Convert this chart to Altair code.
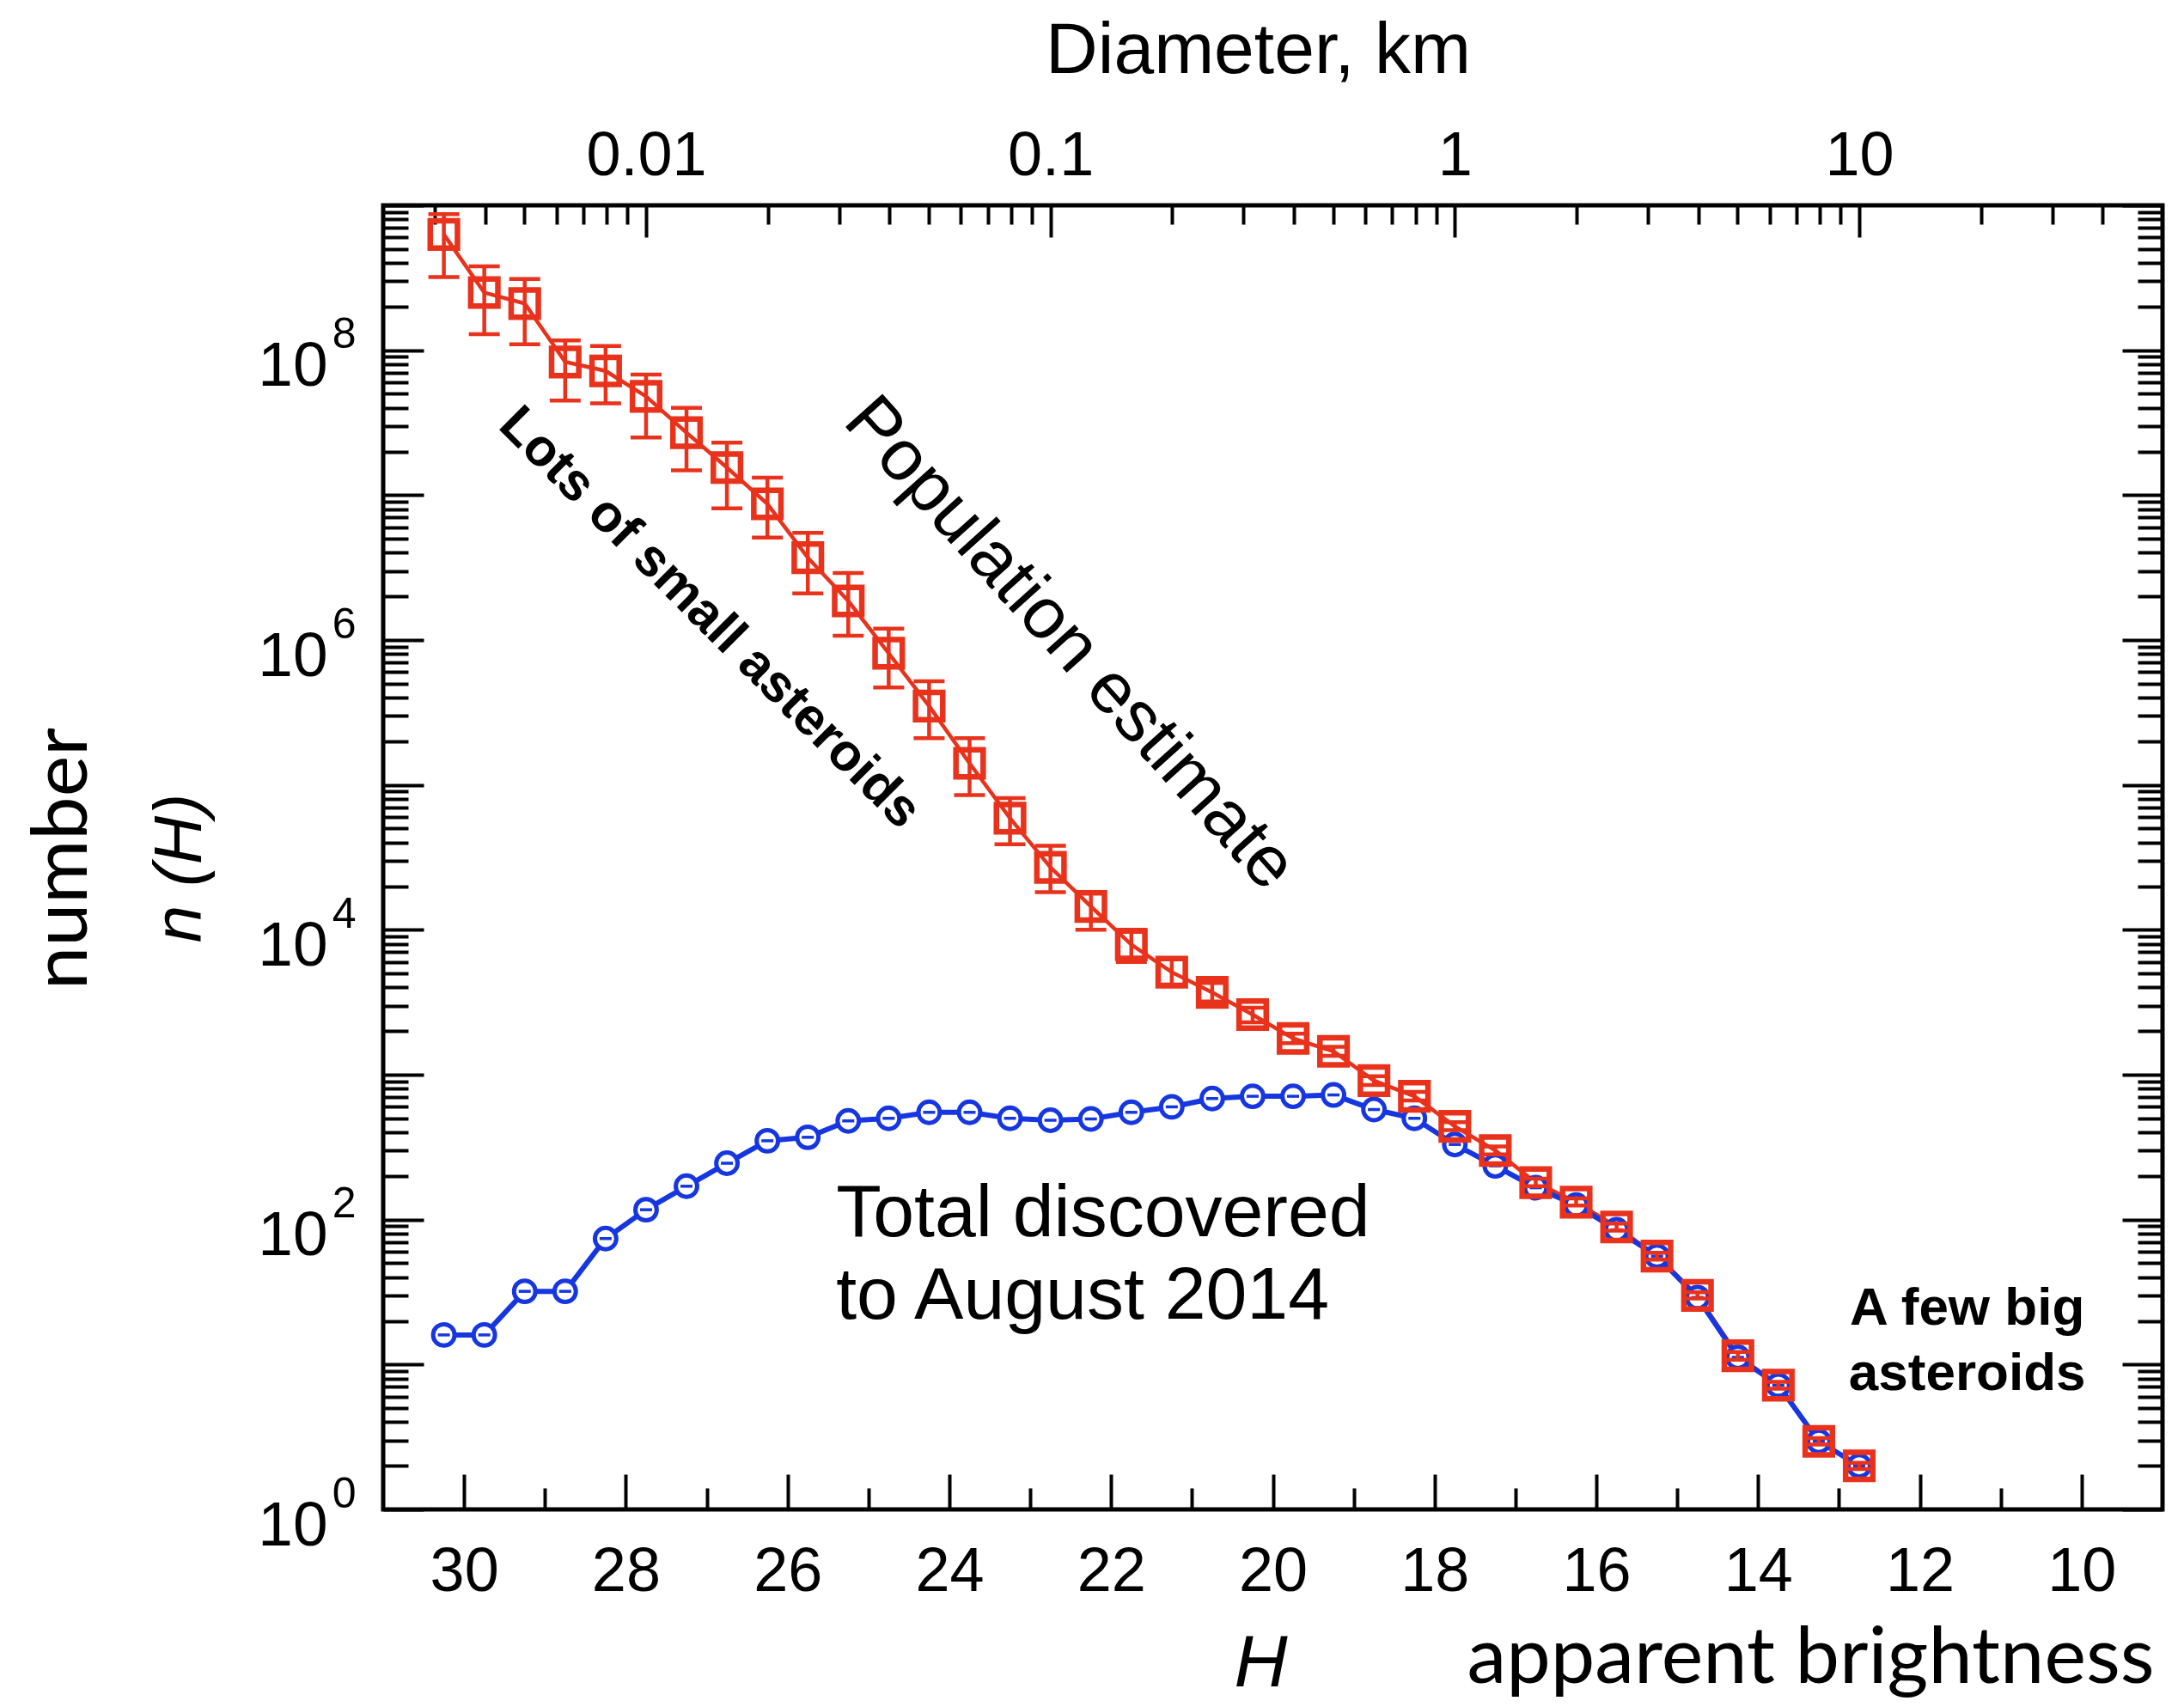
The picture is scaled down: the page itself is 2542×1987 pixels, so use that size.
import math
import altair as alt
import pandas as pd

# ---------------- data ----------------
H = [30.25, 29.75, 29.25, 28.75, 28.25, 27.75, 27.25, 26.75, 26.25, 25.75,
     25.25, 24.75, 24.25, 23.75, 23.25, 22.75, 22.25, 21.75, 21.25, 20.75,
     20.25, 19.75, 19.25, 18.75, 18.25, 17.75, 17.25, 16.75, 16.25, 15.75,
     15.25, 14.75, 14.25, 13.75, 13.25, 12.75]

POP = [6.3e8, 2.5e8, 2.1e8, 8.3e7, 7.2e7, 4.8e7, 2.7e7, 1.55e7, 8.7e6, 3.7e6,
       1.86e6, 8.1e5, 3.5e5, 1.41e5, 5.9e4, 2.7e4, 1.45e4, 7.9e3, 5.1e3, 3.7e3,
       2.6e3, 1.78e3, 1.45e3, 910, 710, 440, 300, 180, 132, 89,
       56, 30, 11.5, 7.2, 2.95, 2.0]

POP_LO = [3.2e8, 1.29e8, 1.10e8, 4.5e7, 4.3e7, 2.5e7, 1.48e7, 8.1e6, 5.1e6, 2.1e6,
          1.07e6, 4.7e5, 2.1e5, 8.5e4, 3.9e4, 1.82e4, 1.0e4, 6.0e3, 4.2e3, 3.2e3,
          2.3e3, 1.65e3, 1.35e3, 850, 665, 415, 282, 170, 125, 84,
          53, 28.5, 10.8, 6.8, 2.8, 1.9]

POP_HI = [8.7e8, 3.8e8, 3.1e8, 1.17e8, 1.07e8, 6.8e7, 4.0e7, 2.3e7, 1.32e7, 5.5e6,
          2.9e6, 1.2e6, 5.2e5, 2.1e5, 8.1e4, 3.8e4, 1.82e4, 1.0e4, 6.3e3, 4.3e3,
          2.9e3, 1.92e3, 1.56e3, 975, 760, 470, 320, 192, 140, 94,
          59, 31.5, 12.2, 7.6, 3.1, 2.1]

FOUND = [16, 16, 32, 32, 74, 117, 170, 245, 350, 370,
         480, 500, 550, 550, 500, 485, 495, 550, 600, 685,
         710, 710, 725, 575, 500, 330, 235, 166, 126, 85,
         56, 29, 11.2, 7.2, 2.95, 2.0]

BOTTOM_TICK_VALUES = list(range(10, 31))
BOTTOM_LABEL_VALUES = list(range(10, 31, 2))
Y_LABEL_VALUES = [1, 10**2, 10**4, 10**6, 10**8]
Y_TICK_VALUES = [m * 10**k for k in range(9) for m in range(1, 10)] + [10**9]
DIAM_MAJOR = [0.01, 0.1, 1, 10]
DIAM_MINOR = [0.003, 0.004, 0.005, 0.006, 0.007, 0.008, 0.009,
              0.02, 0.03, 0.04, 0.05, 0.06, 0.07, 0.08, 0.09,
              0.2, 0.3, 0.4, 0.5, 0.6, 0.7, 0.8, 0.9,
              2, 3, 4, 5, 6, 7, 8, 9, 20, 30, 40]
H_1KM = 17.75  # magnitude of a 1 km asteroid (top axis conversion)

ANNOT_POP = pd.DataFrame({"H": [22.71], "n": [7.5e5], "t": ["Population estimate"]})
ANNOT_LOTS = pd.DataFrame({"H": [27.10], "n": [1.19e6], "t": ["Lots of small asteroids"]})
ANNOT_TOTAL = pd.DataFrame({"H": [25.40], "n": [76.7], "t": ["Total discovered\nto August 2014"]})
ANNOT_BIG = pd.DataFrame({"H": [11.415], "n": [18.9], "t": ["A few big\nasteroids"]})


def diam_to_h(d):
    return round(H_1KM - 5 * math.log10(d), 4)


DIAM_MAJOR_H = [diam_to_h(d) for d in DIAM_MAJOR]
DIAM_TICK_H = DIAM_MAJOR_H + [diam_to_h(d) for d in DIAM_MINOR]

df = pd.DataFrame({"H": H, "pop": POP, "lo": POP_LO, "hi": POP_HI, "found": FOUND})

# ---------------- styling ----------------
PLOT_W, PLOT_H = 2071, 1518
RED = "#e8321c"
BLUE = "#1636e0"
SANS = "Liberation Sans"
HUMAN = "Lato"

xs = alt.Scale(domain=[9, 31], reverse=True, nice=False, zero=False)
ys = alt.Scale(type="log", domain=[1, 1e9], nice=False)

common = dict(grid=False, domain=False, labelColor="black", tickColor="black",
              titleColor="black", labelFlush=False, labelOverlap=False)

Y_MAJOR_TEST = "abs(log(datum.value) / LN10 - round(log(datum.value) / LN10)) < 0.001"

ax_x_labels = alt.Axis(orient="bottom", values=BOTTOM_LABEL_VALUES, format="d",
                       ticks=False, tickSize=0, labelFont=SANS, labelFontSize=72,
                       labelPadding=94, labelBaseline="alphabetic",
                       title="H", titleFont=SANS, titleFontSize=86,
                       titleFontStyle="italic", titleFontWeight="normal",
                       titleX=1021, titleY=205, titleAlign="center",
                       titleBaseline="alphabetic", **common)
ax_x_app = alt.Axis(orient="bottom", labels=False, ticks=False, tickSize=0,
                    title="apparent brightness", titleFont=HUMAN, titleFontSize=92,
                    titleFontWeight="normal", titleX=1261, titleY=201,
                    titleAlign="left", titleBaseline="alphabetic", **common)
ax_x_top_labels = alt.Axis(orient="top", values=DIAM_MAJOR_H,
                           labelExpr=f"format(pow(10, ({H_1KM} - datum.value) / 5), '~g')",
                           ticks=False, tickSize=0, labelFont=SANS, labelFontSize=72,
                           labelPadding=36, labelBaseline="alphabetic",
                           title="Diameter, km", titleFont=SANS, titleFontSize=84,
                           titleFontWeight="normal", titleX=1018, titleY=-155,
                           titleAlign="center", titleBaseline="alphabetic", **common)
ax_x_bot_ticks = alt.Axis(orient="top", offset=-PLOT_H, values=BOTTOM_TICK_VALUES,
                          labels=False, tickWidth=4, title=None,
                          tickSize={"condition": {"test": "datum.value % 2 === 0", "value": 41},
                                    "value": 25}, **common)
ax_x_top_ticks = alt.Axis(orient="bottom", offset=-PLOT_H, values=DIAM_TICK_H,
                          labels=False, tickWidth=4, title=None,
                          tickSize={"condition": {"test": f"indexof({DIAM_MAJOR_H}, datum.value) >= 0",
                                                  "value": 37},
                                    "value": 22}, **common)

ax_y_ten = alt.Axis(orient="left", values=Y_LABEL_VALUES, labelExpr="'10'",
                    ticks=False, tickSize=0, labelFont=SANS, labelFontSize=73,
                    labelPadding=65, labelBaseline="alphabetic", labelOffset=41,
                    labelAlign="right",
                    title="n (H)", titleFont=SANS, titleFontSize=78,
                    titleFontStyle="italic", titleFontWeight="normal",
                    titleX=-213, titleY=771, titleAngle=270, titleAlign="center",
                    titleBaseline="alphabetic", **common)
ax_y_exp = alt.Axis(orient="left", values=Y_LABEL_VALUES,
                    labelExpr="'' + round(log(datum.value) / LN10)",
                    ticks=False, tickSize=0, labelFont=SANS, labelFontSize=50,
                    labelPadding=32, labelBaseline="alphabetic", labelOffset=-3,
                    labelAlign="right", title=None, **common)
ax_y_number = alt.Axis(orient="left", labels=False, ticks=False, tickSize=0,
                       title="number", titleFont=HUMAN, titleFontSize=90,
                       titleFontWeight="normal", titleX=-346, titleY=760,
                       titleAngle=270, titleAlign="center", titleBaseline="alphabetic",
                       **common)
ax_y_left_ticks = alt.Axis(orient="right", offset=-PLOT_W, values=Y_TICK_VALUES,
                           labels=False, tickWidth=4, title=None,
                           tickSize={"condition": {"test": Y_MAJOR_TEST, "value": 47},
                                     "value": 29}, **common)
ax_y_right_ticks = alt.Axis(orient="left", offset=-PLOT_W, values=Y_TICK_VALUES,
                            labels=False, tickWidth=4, title=None,
                            tickSize={"condition": {"test": Y_MAJOR_TEST, "value": 47},
                                      "value": 29}, **common)

base = alt.Chart(df)

red_line = base.mark_line(color=RED, strokeWidth=4.5).encode(
    x=alt.X("H:Q", scale=xs, axis=ax_x_top_labels),
    y=alt.Y("pop:Q", scale=ys, axis=ax_y_exp),
)
blue_line = base.mark_line(color=BLUE, strokeWidth=6).encode(
    x=alt.X("H:Q", scale=xs, axis=ax_x_labels),
    y=alt.Y("found:Q", scale=ys, axis=ax_y_ten),
)
blue_pts = base.mark_point(shape="circle", filled=True, fill="white", stroke=BLUE,
                           strokeWidth=5, size=620, opacity=1).encode(
    x=alt.X("H:Q", scale=xs, axis=ax_x_bot_ticks),
    y=alt.Y("found:Q", scale=ys, axis=ax_y_left_ticks),
)
blue_dash = base.mark_tick(orient="horizontal", color=BLUE, size=14, thickness=3.5,
                           opacity=1).encode(
    x=alt.X("H:Q", scale=xs, axis=ax_x_top_ticks),
    y=alt.Y("found:Q", scale=ys, axis=ax_y_right_ticks),
)
err_rule = base.mark_rule(color=RED, strokeWidth=4.5).encode(
    x=alt.X("H:Q", scale=xs, axis=ax_x_app),
    y=alt.Y("lo:Q", scale=ys, axis=ax_y_number),
    y2="hi:Q",
)
cap_lo = base.mark_tick(orient="horizontal", color=RED, size=36, thickness=4.5,
                        opacity=1).encode(
    x=alt.X("H:Q", scale=xs, axis=None),
    y=alt.Y("lo:Q", scale=ys, axis=None),
)
cap_hi = base.mark_tick(orient="horizontal", color=RED, size=36, thickness=4.5,
                        opacity=1).encode(
    x=alt.X("H:Q", scale=xs, axis=None),
    y=alt.Y("hi:Q", scale=ys, axis=None),
)
red_pts = base.mark_point(shape="square", filled=False, stroke=RED, strokeWidth=6.5,
                          size=1000, opacity=1).encode(
    x=alt.X("H:Q", scale=xs, axis=None),
    y=alt.Y("pop:Q", scale=ys, axis=None),
)


def annot(frame, **kw):
    return alt.Chart(frame).mark_text(color="black", **kw).encode(
        x=alt.X("H:Q", scale=xs, axis=None),
        y=alt.Y("n:Q", scale=ys, axis=None),
        text="t:N",
    )


t_pop = annot(ANNOT_POP, angle=48, align="center", baseline="alphabetic",
              font=SANS, fontSize=84)
t_lots = annot(ANNOT_LOTS, angle=45, align="center", baseline="alphabetic",
               font=SANS, fontSize=61, fontWeight="bold")
t_total = annot(ANNOT_TOTAL, align="left", baseline="alphabetic", font=SANS,
                fontSize=86, lineHeight=96, lineBreak="\n")
t_big = annot(ANNOT_BIG, align="center", baseline="alphabetic", font=SANS,
              fontSize=62, fontWeight="bold", lineHeight=76, lineBreak="\n")

chart = alt.layer(
    red_line, blue_line, blue_pts, blue_dash, err_rule, cap_lo, cap_hi, red_pts,
    t_pop, t_lots, t_total, t_big,
).resolve_axis(
    x="independent", y="independent"
).properties(
    width=PLOT_W, height=PLOT_H,
    padding={"left": 438, "top": 231, "right": 17, "bottom": 222},
    autosize=alt.AutoSizeParams(type="none"),
    background="white",
).configure_view(stroke="black", strokeWidth=5)

chart.save("out.html", embed_options={"renderer": "svg", "actions": False})
